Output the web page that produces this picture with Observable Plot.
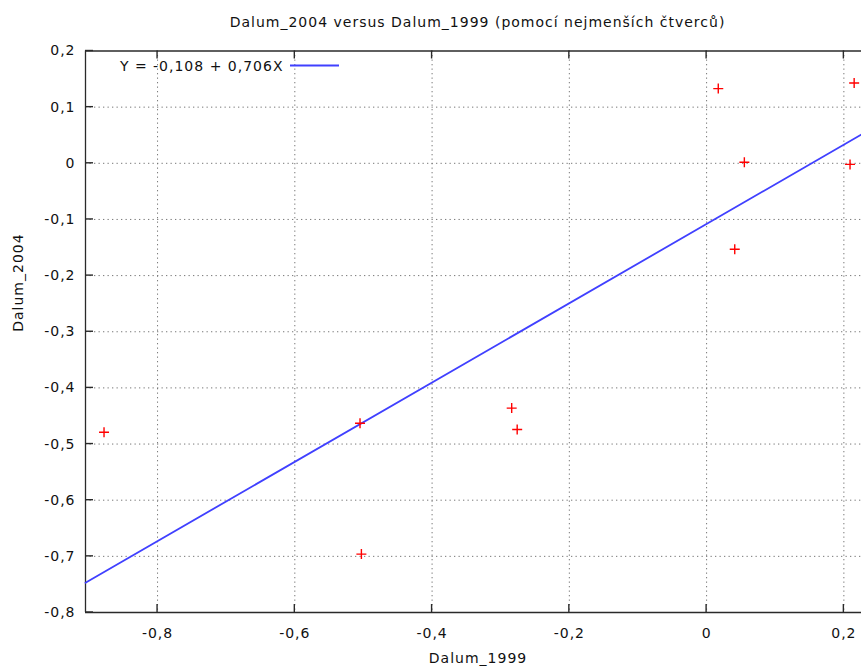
<!DOCTYPE html>
<html>
<head>
<meta charset="utf-8">
<script src="https://cdn.jsdelivr.net/npm/d3@7"></script>
<script src="https://cdn.jsdelivr.net/npm/@observablehq/plot@0.6"></script>
<style>
  html, body { margin: 0; padding: 0; background: #fff; overflow: hidden; }
</style>
</head>
<body>
<div id="chart"></div>
<script>
const x1999 = [-0.878, -0.505, -0.503, -0.284, -0.276, 0.017, 0.041, 0.055, 0.209, 0.215];
const y2004 = [-0.479, -0.463, -0.696, -0.436, -0.474, 0.133, -0.153, 0.002, -0.002, 0.143];
const intercept = -0.108;
const slope = 0.706;
const xTicks = [-0.8, -0.6, -0.4, -0.2, 0, 0.2];
const yTicks = [-0.8, -0.7, -0.6, -0.5, -0.4, -0.3, -0.2, -0.1, 0, 0.1, 0.2];
const xDomain = [-0.905, 0.2257];
const yDomain = [-0.8, 0.2];
const titleText = "Dalum_2004 versus Dalum_1999 (pomocí nejmenších čtverců)";
const xLabel = "Dalum_1999";
const yLabel = "Dalum_2004";
const legendText = "Y = -0,108 + 0,706X";

const W = 861, H = 666;
const mT = 50.5, mB = 54, mL = 85, mR = 0;
const tickLen = 8;

const fmt = v => Math.abs(v) < 1e-9 ? "0" : d3.format(".1f")(v).replace("−", "-").replace(".", ",");

const points = x1999.map((x, i) => ({x, y: y2004[i]}));
const fitLine = xDomain.map(x => ({x, y: intercept + slope * x}));

const crossSymbol = {
  draw(context, size) {
    const r = Math.sqrt(size / Math.PI);
    context.moveTo(-r, 0); context.lineTo(r, 0);
    context.moveTo(0, -r); context.lineTo(0, r);
  }
};

const textColor = "#111";
const gridColor = "#777";
const frameColor = "#2a2a2a";
const lineColor = "#4040ff";
const gridY = yTicks.filter(v => v > -0.8 + 1e-9 && v < 0.2 - 1e-9);

const chart = Plot.plot({
  width: W, height: H,
  marginTop: mT, marginBottom: mB, marginLeft: mL, marginRight: mR,
  style: {fontFamily: "DejaVu Sans", fontSize: "14px", letterSpacing: "1px", background: "#fff", overflow: "hidden"},
  x: {domain: xDomain, axis: null},
  y: {domain: yDomain, axis: null},
  marks: [
    Plot.ruleX(xTicks, {x: d => d, stroke: gridColor, strokeOpacity: 1, strokeDasharray: "1.3,3.2"}),
    Plot.ruleY(gridY, {y: d => d, stroke: gridColor, strokeOpacity: 1, strokeDasharray: "1.3,3.2"}),
    Plot.ruleY(yDomain, {y: d => d, stroke: frameColor, strokeWidth: 1.3}),
    Plot.ruleX([xDomain[0]], {x: d => d, stroke: frameColor, strokeWidth: 1.3}),
    Plot.line(fitLine, {x: "x", y: "y", stroke: lineColor, strokeWidth: 1.8}),
    Plot.dot(points, {x: "x", y: "y", symbol: crossSymbol, r: 5, stroke: "#ff0000", strokeWidth: 1.4, fill: "none"}),
    Plot.text(xTicks, {x: d => d, frameAnchor: "bottom", lineAnchor: "middle", dy: 21.5, text: fmt, fill: textColor}),
    Plot.text(yTicks, {y: d => d, frameAnchor: "left", lineAnchor: "middle", dx: -10, textAnchor: "end", text: fmt, fill: textColor}),
    Plot.text([xLabel], {frameAnchor: "bottom", lineAnchor: "middle", dx: 4.5, dy: 46.5, text: d => d, fill: textColor}),
    Plot.text([yLabel], {frameAnchor: "left", lineAnchor: "middle", dx: -66.5, rotate: -90, text: d => d, fill: textColor}),
    Plot.text([titleText], {frameAnchor: "top", lineAnchor: "middle", dx: 4, dy: -28.5, text: d => d, fill: textColor}),
    Plot.text([legendText], {frameAnchor: "top-left", lineAnchor: "middle", dx: 198, dy: 15.5, textAnchor: "end", text: d => d, fill: textColor})
  ]
});

// inward ticks on left, bottom and top, positioned by Plot's own scales
const sx = chart.scale("x"), sy = chart.scale("y");
const svg = d3.select(chart);
const tg = svg.append("g").attr("stroke", frameColor).attr("stroke-width", 1.4);
const yBot = sy.apply(yDomain[0]), yTop = sy.apply(yDomain[1]), xLeft = sx.apply(xDomain[0]);
for (const t of xTicks) {
  const px = sx.apply(t);
  tg.append("line").attr("x1", px).attr("x2", px).attr("y1", yBot).attr("y2", yBot - tickLen);
  tg.append("line").attr("x1", px).attr("x2", px).attr("y1", yTop).attr("y2", yTop + tickLen);
}
for (const t of yTicks) {
  const py = sy.apply(t);
  tg.append("line").attr("x1", xLeft).attr("x2", xLeft + tickLen).attr("y1", py).attr("y2", py);
}

// legend sample line
svg.append("line")
  .attr("x1", 290).attr("x2", 339)
  .attr("y1", 65.5).attr("y2", 65.5)
  .attr("stroke", lineColor).attr("stroke-width", 1.8);

document.getElementById("chart").appendChild(chart);
</script>
</body>
</html>
